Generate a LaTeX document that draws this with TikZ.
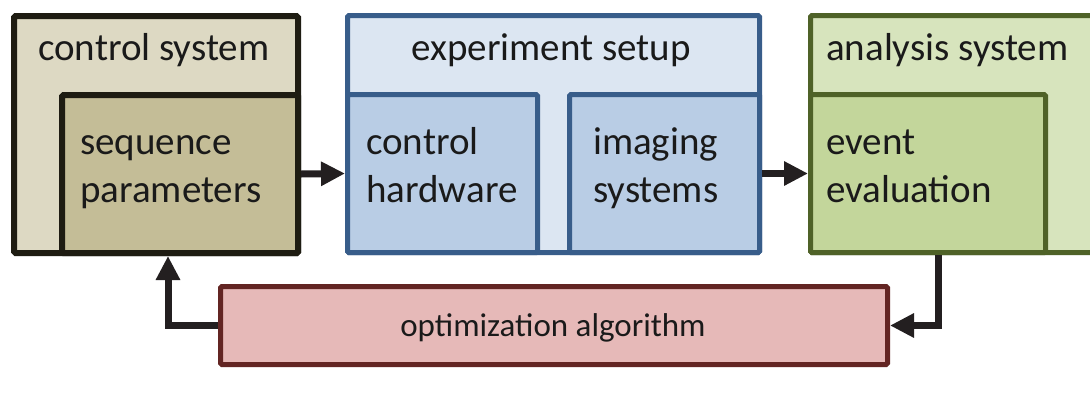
\documentclass[tikz,border=0pt]{standalone}
\usepackage{fontspec}
\setmainfont{Carlito}
\usetikzlibrary{arrows.meta}
\definecolor{csline}{HTML}{1E1C12}
\definecolor{csout}{HTML}{DDD9C3}
\definecolor{csin}{HTML}{C4BD97}
\definecolor{blline}{HTML}{385D8A}
\definecolor{blout}{HTML}{DCE6F2}
\definecolor{blin}{HTML}{B9CDE5}
\definecolor{grline}{HTML}{4F6228}
\definecolor{grout}{HTML}{D7E4BD}
\definecolor{grin}{HTML}{C3D69B}
\definecolor{rdline}{HTML}{632523}
\definecolor{rdfill}{HTML}{E6B9B8}
\definecolor{arr}{HTML}{231F20}
\definecolor{txt}{HTML}{1A1A1A}
\tikzset{
  panel/.style={draw, rounded corners=1.5pt, anchor=north west, inner sep=0pt},
  bigtxt/.style={font=\fontsize{39}{48}\selectfont, text=txt, inner sep=0pt, anchor=base west, align=left},
  flow/.style={draw=arr, line width=7pt, -{Triangle[length=24pt,width=23pt]}}
}
\begin{document}
\begin{tikzpicture}[x=1pt,y=-1pt]
\useasboundingbox[fill=white] (0,0) rectangle (1090,397);
% control system
\node[panel, draw=csline, fill=csout, line width=6pt, minimum width=284pt, minimum height=237pt] (cs) at (11,13) {};
\node[panel, draw=csline, fill=csin, line width=6pt, minimum width=236pt, minimum height=158pt] (seq) at (59,92) {};
% experiment setup
\node[panel, draw=blline, fill=blout, line width=5pt, minimum width=412pt, minimum height=237pt] (es) at (345,13) {};
\node[panel, draw=blline, fill=blin, line width=5pt, minimum width=190pt, minimum height=158pt] (hw) at (345,92) {};
\node[panel, draw=blline, fill=blin, line width=5pt, minimum width=190pt, minimum height=158pt] (img) at (567,92) {};
% analysis system
\node[panel, draw=grline, fill=grout, line width=5pt, minimum width=300pt, minimum height=237pt] (as) at (808,13) {};
\node[panel, draw=grline, fill=grin, line width=5pt, minimum width=235pt, minimum height=158pt] (ev) at (808,92) {};
% optimization
\node[panel, draw=rdline, fill=rdfill, line width=5pt, minimum width=667pt, minimum height=78pt] (opt) at (218,284) {};
% texts
\node[bigtxt] (tcs) at (38,60) {control system};
\node[bigtxt, anchor=base] (tes) at (551,60) {experiment setup};
\node[bigtxt] (tas) at (826,60) {analysis system};
\node[bigtxt] (tseq) at (80,202) {sequence\\parameters};
\node[bigtxt] (thw) at (366,202) {control\\hardware};
\node[bigtxt] (timg) at (593,202) {imaging\\systems};
\node[bigtxt] (tev) at (826,202) {event\\evaluation};
\node[font=\fontsize{33}{40}\selectfont, text=txt, inner sep=0pt, anchor=base] (topt) at (553,336) {optimization algorithm};
% connectors
\draw[flow] (seq.east) -- (hw.west);
\draw[flow] (img.east) -- (ev.west);
\draw[flow] ([xshift=10pt]ev.south) |- (opt.east);
\draw[flow] (opt.west) -| ([xshift=-12pt]seq.south);
\end{tikzpicture}
\end{document}
